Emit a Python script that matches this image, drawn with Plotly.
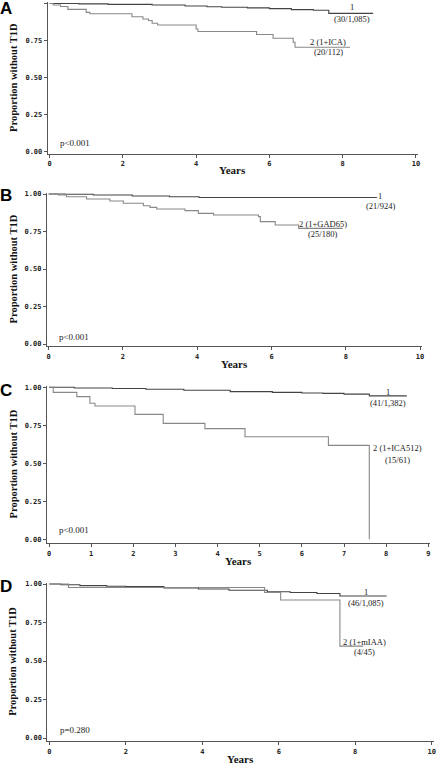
import plotly.graph_objects as go

# ---------------- data ----------------
# Panel A
a1_t = [0, 0.8, 1.6, 2.8, 3.7, 4.3, 4.7, 5.4, 6.0, 6.6, 7.2, 7.62, 8.83]
a1_s = [1.0, 0.997, 0.994, 0.99, 0.983, 0.978, 0.974, 0.970, 0.965, 0.958, 0.954, 0.933, 0.933]
a2_t = [0, 0.1, 0.3, 0.5, 1.0, 1.1, 2.25, 2.55, 2.7, 2.8, 2.95, 4.0, 4.05, 5.65, 6.1, 6.65, 6.7, 8.2]
a2_s = [1.0, 0.99, 0.98, 0.96, 0.94, 0.93, 0.91, 0.895, 0.885, 0.866, 0.854, 0.827, 0.81, 0.79, 0.764, 0.737, 0.703, 0.703]
# Panel B
b1_t = [0, 0.45, 1.2, 2.25, 3.25, 4.05, 8.84]
b1_s = [1.0, 0.998, 0.993, 0.987, 0.982, 0.977, 0.977]
b2_t = [0, 0.26, 0.48, 1.02, 1.65, 2.01, 2.55, 2.73, 2.91, 3.67, 4.03, 4.44, 5.65, 5.7, 6.1, 6.73, 7.92]
b2_s = [1.0, 0.993, 0.982, 0.967, 0.953, 0.938, 0.922, 0.911, 0.9, 0.889, 0.871, 0.86, 0.849, 0.816, 0.793, 0.771, 0.771]
# Panel C
c1_t = [0, 0.6, 1.5, 2.3, 3.2, 4.3, 5.3, 6.0, 6.5, 7.0, 7.6, 8.49]
c1_s = [1.0, 0.996, 0.992, 0.987, 0.981, 0.972, 0.967, 0.963, 0.96, 0.955, 0.944, 0.944]
c2_t = [0, 0.1, 0.66, 0.97, 1.09, 2.04, 2.71, 3.70, 4.65, 6.63, 7.6, 7.6]
c2_s = [1.0, 0.967, 0.939, 0.895, 0.877, 0.822, 0.763, 0.728, 0.675, 0.618, 0.0, 0.0]
# Panel D
d1_t = [0, 0.3, 0.8, 1.5, 2.0, 3.0, 3.9, 4.7, 5.7, 6.3, 7.0, 7.6, 8.82]
d1_s = [1.0, 0.995, 0.99, 0.986, 0.983, 0.975, 0.968, 0.96, 0.95, 0.945, 0.939, 0.922, 0.922]
d2_t = [0, 0.5, 5.63, 6.05, 7.6, 8.21]
d2_s = [1.0, 0.978, 0.945, 0.896, 0.597, 0.597]

y_ticks = [0, 0.25, 0.5, 0.75, 1.0]
y_tick_labels = ["0.00", "0.25", "0.50", "0.75", "1.00"]
x_ticks_10 = [0, 2, 4, 6, 8, 10]
x_ticks_9 = [0, 1, 2, 3, 4, 5, 6, 7, 8, 9]

panel_letters = ["A", "B", "C", "D"]
p_values = ["p<0.001", "p<0.001", "p<0.001", "p=0.280"]
lab1_top = ["1", "1", "1", "1"]
lab1_bot = ["(30/1,085)", "(21/924)", "(41/1,382)", "(46/1,085)"]
lab2_top = ["2 (1+ICA)", "2 (1+GAD65)", "2 (1+ICA512)", "2 (1+mIAA)"]
lab2_bot = ["(20/112)", "(25/180)", "(15/61)", "(4/45)"]

# ---------------- layout geometry (pixels) ----------------
W, H = 436, 766
panels = [
    dict(xpx=(47.7, 417.8), ypx=(2.0, 154.0), xr=[-0.05, 10.05], yr=[-0.02, 1.01], xt=x_ticks_10, years_y=170,
         curves=[(a1_t, a1_s), (a2_t, a2_s)],
         l1=(8.25, 0.974, 0.893), l2=(7.6, 0.741, 0.669), p=(0.24, 0.052), letter_y=8),
    dict(xpx=(46.8, 421.9), ypx=(192.5, 346.25), xr=[-0.05, 10.05], yr=[-0.015, 1.01], xt=x_ticks_10, years_y=364,
         curves=[(b1_t, b1_s), (b2_t, b2_s)],
         l1=(8.93, 0.99, 0.92), l2=(7.38, 0.80, 0.731), p=(0.22, 0.049), letter_y=196),
    dict(xpx=(46.9, 430.4), ypx=(385.8, 543.1), xr=[-0.05, 9.05], yr=[-0.025, 1.01], xt=x_ticks_9, years_y=561,
         curves=[(c1_t, c1_s), (c2_t, c2_s)],
         l1=(8.04, 0.971, 0.895), l2=(8.27, 0.603, 0.522), p=(0.2, 0.061), letter_y=390),
    dict(xpx=(47.4, 433.6), ypx=(582.5, 741.1), xr=[-0.05, 10.05], yr=[-0.02, 1.01], xt=x_ticks_10, years_y=759,
         curves=[(d1_t, d1_s), (d2_t, d2_s)],
         l1=(8.28, 0.95, 0.879), l2=(8.24, 0.626, 0.556), p=(0.24, 0.052), letter_y=586),
]

colors = ["#444444", "#888888"]
serif = "Liberation Serif"
mono = "DejaVu Sans Mono"
axcol = "#555555"

fig = go.Figure()
layout = dict(width=W, height=H, margin=dict(l=0, r=0, t=0, b=0, autoexpand=False),
              paper_bgcolor="white", plot_bgcolor="white", showlegend=False)
annotations = []

for i, p in enumerate(panels):
    n = i + 1
    xa = "x" if n == 1 else f"x{n}"
    ya = "y" if n == 1 else f"y{n}"
    xkey = "xaxis" if n == 1 else f"xaxis{n}"
    ykey = "yaxis" if n == 1 else f"yaxis{n}"
    for k, (t, s) in enumerate(p["curves"]):
        fig.add_trace(go.Scatter(x=t, y=s, mode="lines", line=dict(color=colors[k], width=1.1, shape="hv"),
                                 xaxis=xa, yaxis=ya, hoverinfo="skip"))
    common = dict(showline=True, linecolor=axcol, linewidth=1, ticks="outside", ticklen=3,
                  tickcolor=axcol, tickwidth=1, showgrid=False, zeroline=False, automargin=False,
                  tickfont=dict(family=mono, size=7, color="#222", weight="bold"))
    layout[xkey] = dict(domain=[p["xpx"][0] / W, p["xpx"][1] / W], range=p["xr"], anchor=ya,
                        tickvals=p["xt"], ticktext=[str(v) for v in p["xt"]], **common)
    layout[ykey] = dict(domain=[1 - p["ypx"][1] / H, 1 - p["ypx"][0] / H], range=p["yr"], anchor=xa,
                        tickvals=y_ticks, ticktext=y_tick_labels, **common)
    tf = dict(family=serif, size=8.5, color="#222")
    x1, y1a, y1b = p["l1"]
    x2, y2a, y2b = p["l2"]
    for (xx, yy, txt) in [(x1, y1a, lab1_top[i]), (x1, y1b, lab1_bot[i]),
                          (x2, y2a, lab2_top[i]), (x2, y2b, lab2_bot[i])]:
        annotations.append(dict(x=xx, y=yy, xref=xa, yref=ya, text=txt, showarrow=False,
                                font=tf, xanchor="center", yanchor="middle"))
    annotations.append(dict(x=p["p"][0], y=p["p"][1], xref=xa, yref=ya, text=p_values[i],
                            showarrow=False, font=dict(family=serif, size=9, color="#222"),
                            xanchor="left", yanchor="middle"))
    annotations.append(dict(x=13 / W, y=0.5, xref="paper", yref=f"{ya} domain",
                            text="Proportion without T1D", textangle=-90, showarrow=False,
                            font=dict(family=serif, size=10.5, color="#111", weight="bold"),
                            xanchor="center", yanchor="middle"))
    annotations.append(dict(x=0.5, y=1 - p["years_y"] / H, xref=f"{xa} domain", yref="paper",
                            text="Years", showarrow=False,
                            font=dict(family=serif, size=11, color="#111", weight="bold"),
                            xanchor="center", yanchor="middle"))
    annotations.append(dict(x=0, y=1 - p["letter_y"] / H, xref="paper", yref="paper",
                            text=panel_letters[i], showarrow=False,
                            font=dict(family="Liberation Sans", size=17, color="#000", weight="bold"),
                            xanchor="left", yanchor="middle", xshift=-2))

layout["annotations"] = annotations
fig.update_layout(**layout)
fig.write_html("out.html", config={"displayModeBar": False},
               post_script="document.body.style.margin='0';document.body.style.overflow='hidden';")
